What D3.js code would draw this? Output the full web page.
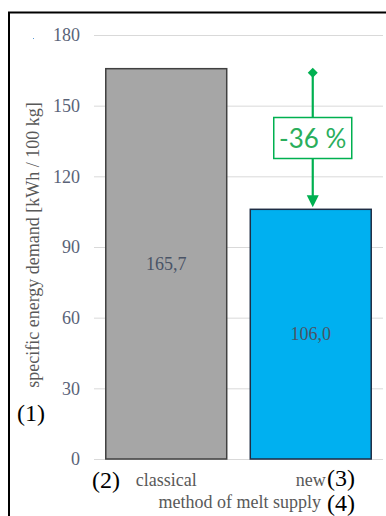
<!DOCTYPE html>
<html><head><meta charset="utf-8">
<script src="https://cdn.jsdelivr.net/npm/d3@7"></script>
<style>html,body{margin:0;padding:0;background:#fff;overflow:hidden}
svg text{font-family:"Liberation Serif","Times New Roman",serif}
svg text.pct{font-family:Lato,"Open Sans",sans-serif}</style>
</head><body>
<svg id="c" width="386" height="516"></svg>
<script>
const categories = ["classical", "new"];
const values = [165.7, 106.0];
const valueLabels = ["165,7", "106,0"];
const yTicks = [0, 30, 60, 90, 120, 150, 180];
const barColors = ["#a6a6a6", "#00b0f0"];
const barStrokes = ["#404040", "#1f2d44"];
const changeLabel = "-36 %";

const svg = d3.select("#c");

// frame
svg.append("path").attr("d","M9,520 L9,12.5 L390,12.5").attr("fill","none").attr("stroke","#000").attr("stroke-width",2);

const x = d3.scaleBand().domain(categories).range([94, 383]).paddingInner(0.163).paddingOuter(0.0815);
const y = d3.scaleLinear().domain([0, 180]).range([459, 35]);

// gridlines
svg.append("g").selectAll("line").data(yTicks).join("line")
  .attr("x1", 94).attr("x2", 383)
  .attr("y1", d => y(d)+0.5).attr("y2", d => y(d)+0.5)
  .attr("stroke", "#d9d9d9").attr("stroke-width", 1);

// y axis labels
const yAxis = d3.axisLeft(y).tickValues(yTicks).tickSize(0).tickPadding(0);
const ga = svg.append("g").attr("transform","translate(80,0)").call(yAxis);
ga.attr("font-family", null).attr("font-size", null);
ga.select(".domain").remove();
ga.selectAll("text").style("font-size", "18px").attr("fill", "#5a6378").attr("dy","0.33em");

// bars
svg.append("g").selectAll("rect").data(values).join("rect")
  .attr("x", (d,i) => x(categories[i]))
  .attr("y", d => y(d))
  .attr("width", x.bandwidth())
  .attr("height", d => y(0) - y(d))
  .attr("fill", (d,i) => barColors[i])
  .attr("stroke", (d,i) => barStrokes[i]).attr("stroke-width", 1.5);

// value labels
svg.append("g").selectAll("text").data(values).join("text")
  .attr("x", (d,i) => x(categories[i]) + x.bandwidth()/2)
  .attr("y", d => (y(d)+y(0))/2)
  .attr("dy","0.35em")
  .attr("text-anchor","middle")
  .style("font-size", "18px").attr("fill", "#4a5466")
  .text((d,i) => valueLabels[i]);

// category labels
svg.append("g").selectAll("text").data(categories).join("text")
  .attr("x", d => x(d) + x.bandwidth()/2)
  .attr("y", 486)
  .attr("text-anchor","middle")
  .style("font-size", "18px").attr("fill", "#595959")
  .text(d => d);

// axis titles
svg.append("text").attr("transform","translate(39,245) rotate(-90)")
  .attr("text-anchor","middle").style("font-size", "18px").attr("fill","#595959")
  .text("specific energy demand [kWh / 100 kg]");
svg.append("text").attr("x", 321).attr("y", 508).attr("text-anchor","end")
  .style("font-size", "18px").attr("fill","#595959")
  .text("method of melt supply");

// annotation numbers
const ann = [["(1)",17,421],["(2)",92,488],["(3)",327,486],["(4)",327,511]];
svg.append("g").selectAll("text").data(ann).join("text")
  .attr("x", d=>d[1]).attr("y", d=>d[2])
  .style("font-size", "24px").attr("fill","#000")
  .text(d=>d[0]);

// tiny dot artifact
svg.append("rect").attr("x",33).attr("y",38).attr("width",1).attr("height",1).attr("fill","#5b9bd5");

// change arrow
const green = "#00b050";
const ax = x("new") + x.bandwidth()/2 + 2;
const yTop = y(values[0]) + 4;
const yBot = y(values[1]) - 2;
svg.append("line").attr("x1",ax).attr("x2",ax).attr("y1",yTop).attr("y2",yBot-10)
  .attr("stroke",green).attr("stroke-width",2.2);
svg.append("path").attr("d",`M${ax-5},${yTop} L${ax},${yTop-5} L${ax+5},${yTop} L${ax},${yTop+5}Z`).attr("fill",green);
svg.append("path").attr("d",`M${ax-6},${yBot-12} L${ax+6},${yBot-12} L${ax},${yBot}Z`).attr("fill",green);
svg.append("rect").attr("x",ax-39).attr("y",117.5).attr("width",78).attr("height",41)
  .attr("fill","#fff").attr("stroke",green).attr("stroke-width",1.5);
svg.append("text").attr("class","pct").attr("x",ax).attr("y",139).attr("dy","0.35em").attr("text-anchor","middle")
  .style("font-size","26px").style("font-weight","400").attr("fill","#2aae5c")
  .text(changeLabel);
</script>
</body></html>
